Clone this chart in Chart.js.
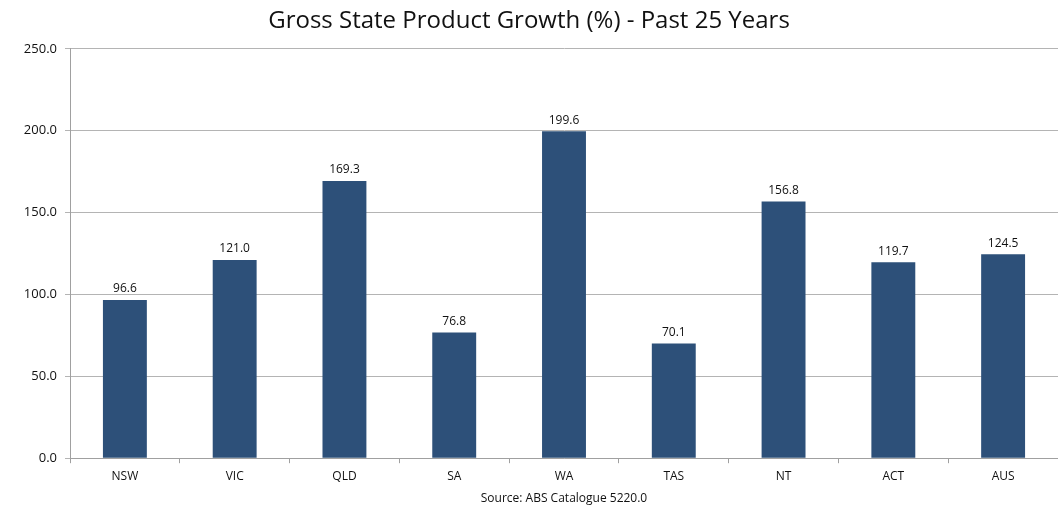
<!DOCTYPE html>
<html>
<head>
<meta charset="utf-8">
<script src="https://cdn.jsdelivr.net/npm/chart.js@4"></script>
<style>
  html, body { margin: 0; padding: 0; background: #fff; }
  #wrap { width: 1058px; height: 508px; }
</style>
</head>
<body>
<div id="wrap"><canvas id="gspChart"></canvas></div>
<script>
  const states = ['NSW', 'VIC', 'QLD', 'SA', 'WA', 'TAS', 'NT', 'ACT', 'AUS'];
  const growth = [96.6, 121.0, 169.3, 76.8, 199.6, 70.1, 156.8, 119.7, 124.5];
  const yTicks = [0, 50, 100, 150, 200, 250];

  const fontFamily = '"Open Sans", "Noto Sans", sans-serif';

  // Draw the value above each bar
  const barValues = {
    id: 'barValues',
    afterDatasetsDraw(chart) {
      const ctx = chart.ctx;
      const meta = chart.getDatasetMeta(0);
      ctx.save();
      ctx.font = '12px ' + fontFamily;
      ctx.fillStyle = '#111';
      ctx.textAlign = 'center';
      ctx.textBaseline = 'bottom';
      meta.data.forEach((bar, i) => {
        ctx.fillText(growth[i].toFixed(1), bar.x, bar.y - 5);
      });
      ctx.restore();
    }
  };

  new Chart(document.getElementById('gspChart'), {
    type: 'bar',
    data: {
      labels: states,
      datasets: [{
        data: growth,
        backgroundColor: '#2d5079',
        borderWidth: 0,
        barPercentage: 0.4,
        categoryPercentage: 1.0
      }]
    },
    options: {
      responsive: true,
      maintainAspectRatio: false,
      animation: false,
      layout: { padding: { top: 7, right: 0, bottom: 2, left: 0 } },
      plugins: {
        legend: { display: false },
        tooltip: { enabled: false },
        title: {
          display: true,
          text: 'Gross State Product Growth (%) - Past 25 Years',
          color: '#111',
          font: { family: fontFamily, size: 24, weight: 'normal' },
          padding: { top: 0, bottom: 13 }
        }
      },
      scales: {
        x: {
          ticks: {
            color: '#111',
            font: { family: fontFamily, size: 12 },
            padding: 6
          },
          grid: {
            drawOnChartArea: false,
            drawTicks: true,
            tickLength: 5,
            color: '#a0a0a0'
          },
          border: { color: '#a0a0a0' },
          title: {
            display: true,
            text: 'Source: ABS Catalogue 5220.0',
            color: '#111',
            font: { family: fontFamily, size: 12 },
            padding: { top: 2, bottom: 0 }
          }
        },
        y: {
          min: 0,
          max: 250,
          afterBuildTicks(axis) {
            axis.ticks = yTicks.map(v => ({ value: v }));
          },
          afterFit(axis) {
            axis.width = 70;
          },
          ticks: {
            color: '#111',
            font: { family: fontFamily, size: 13 },
            padding: 8,
            callback: v => v.toFixed(1)
          },
          grid: {
            color: '#b4b4b4',
            tickLength: 5
          },
          border: { color: '#a0a0a0' }
        }
      }
    },
    plugins: [barValues]
  });
</script>
</body>
</html>
